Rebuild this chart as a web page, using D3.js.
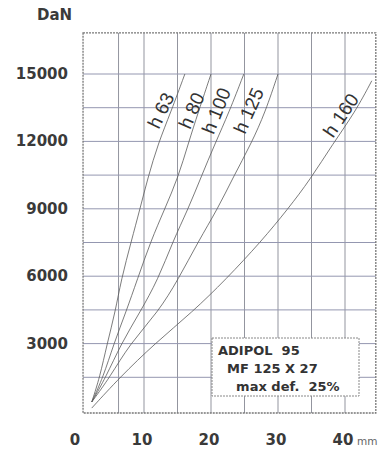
<!DOCTYPE html>
<html>
<head>
<meta charset="utf-8">
<script src="https://cdn.jsdelivr.net/npm/d3@7"></script>
<style>
  body { margin: 0; background: #fff; }
  text { white-space: pre; }
</style>
</head>
<body>
<div id="chart"></div>
<script>
// deflection (mm) vs load (DaN) for each buffer height
const seriesNames = ['h 63', 'h 80', 'h 100', 'h 125', 'h 160'];
const h63x  = [2.2, 3.4, 4.5, 5.7, 6.6, 8.1, 9.4, 10.6, 12.1, 14.0, 16.1];
const h80x  = [2.2, 3.9, 5.5, 7.3, 9.0, 11.0, 13.1, 15.1, 16.6, 18.1, 20.0];
const h100x = [2.2, 4.3, 6.6, 9.4, 12.1, 14.3, 16.6, 18.5, 20.6, 22.7, 24.9];
const h125x = [2.2, 4.9, 7.9, 12.1, 15.1, 18.1, 21.0, 23.3, 26.0, 28.1, 30.0];
const h160x = [2.2, 6.4, 11.6, 17.2, 22.2, 27.5, 31.5, 34.8, 38.2, 41.5, 44.0];
const loads = [400, 1500, 3000, 4400, 5850, 7550, 9000, 10400, 11900, 13300, 15000];
const h160loads = [130, 1500, 3000, 4400, 5850, 7550, 9000, 10300, 11900, 13300, 14700];

const xTicks = [0, 10, 20, 30, 40];
const yTicks = [3000, 6000, 9000, 12000, 15000];
const xGrid = [6.2, 10, 15, 20, 25, 30, 35, 40];
const yGrid = [1500, 3000, 4500, 6000, 7500, 9000, 10500, 12000, 13500, 15000];
const boxLines = ['ADIPOL  95', '  MF 125 X 27', '    max def.  25%'];

const width = 388, height = 450;

const svg = d3.select('#chart').append('svg')
    .attr('width', width)
    .attr('height', height);

const x = d3.scaleLinear().domain([0, 40]).range([77, 345]);
const y = d3.scaleLinear().domain([0, 15000]).range([411, 74]);

// plot frame limits (data units)
const x0 = 0.9, x1 = 44.6, y0 = -90, y1 = 16830;

const grid = svg.append('g');
grid.selectAll('line.v').data(xGrid).enter().append('line')
    .attr('x1', d => x(d)).attr('x2', d => x(d))
    .attr('y1', y(y0)).attr('y2', y(y1))
    .attr('stroke', '#93959f').attr('stroke-width', 1);
grid.selectAll('line.h').data(yGrid).enter().append('line')
    .attr('x1', x(x0)).attr('x2', x(x1))
    .attr('y1', d => y(d)).attr('y2', d => y(d))
    .attr('stroke', '#9497b0').attr('stroke-width', 1);

svg.append('rect')
    .attr('x', x(x0)).attr('y', y(y1))
    .attr('width', x(x1) - x(x0)).attr('height', y(y0) - y(y1))
    .attr('fill', 'none').attr('stroke', '#777')
    .attr('stroke-width', 1.3).attr('stroke-dasharray', '2,1');

// curves
const data = [
  h63x.map((d, i) => [d, loads[i]]),
  h80x.map((d, i) => [d, loads[i]]),
  h100x.map((d, i) => [d, loads[i]]),
  h125x.map((d, i) => [d, loads[i]]),
  h160x.map((d, i) => [d, h160loads[i]])
];

const line = d3.line()
    .x(d => x(d[0]))
    .y(d => y(d[1]))
    .curve(d3.curveBasis);

svg.selectAll('path.curve').data(data).enter().append('path')
    .attr('d', line)
    .attr('fill', 'none')
    .attr('stroke', '#5a5a5a')
    .attr('stroke-width', 0.8);

// curve labels, placed along each curve near the top
const labelAt = [[13.4, 13250, -64], [18.0, 13250, -66], [21.7, 13250, -68], [26.5, 13250, -66], [40.2, 13000, -56]];
svg.selectAll('text.lab').data(seriesNames).enter().append('text')
    .attr('transform', (d, i) => `translate(${x(labelAt[i][0])},${y(labelAt[i][1])}) rotate(${labelAt[i][2]})`)
    .attr('text-anchor', 'middle')
    .attr('font-family', 'Liberation Sans Narrow, Liberation Sans, sans-serif')
    .attr('font-size', 19)
    .attr('fill', '#333')
    .text(d => d);

// axis labels
const fontBold = 'DejaVu Sans, Verdana, sans-serif';
svg.selectAll('text.yt').data(yTicks).enter().append('text')
    .attr('x', 68).attr('y', d => y(d) + 5)
    .attr('text-anchor', 'end')
    .attr('font-family', fontBold).attr('font-weight', 'bold')
    .attr('font-size', 15).attr('fill', '#3a3a3a')
    .text(d => d);

svg.selectAll('text.xt').data(xTicks).enter().append('text')
    .attr('x', d => x(d) - 2).attr('y', 445)
    .attr('text-anchor', 'middle')
    .attr('font-family', fontBold).attr('font-weight', 'bold')
    .attr('font-size', 15).attr('fill', '#3a3a3a')
    .text(d => d);

svg.append('text')
    .attr('x', 357).attr('y', 445)
    .attr('font-family', fontBold).attr('font-size', 10.5)
    .attr('fill', '#666')
    .text('mm');

svg.append('text')
    .attr('x', 37).attr('y', 20)
    .attr('font-family', fontBold).attr('font-weight', 'bold')
    .attr('font-size', 15).attr('fill', '#3a3a3a')
    .text('DaN');

// info box
const box = svg.append('g');
box.append('rect')
    .attr('x', 212).attr('y', 338)
    .attr('width', 147).attr('height', 58)
    .attr('fill', '#fff').attr('stroke', '#888')
    .attr('stroke-width', 1).attr('stroke-dasharray', '2,1');
box.selectAll('text').data(boxLines).enter().append('text')
    .attr('x', 218).attr('y', (d, i) => 355 + i * 18)
    .attr('font-family', fontBold).attr('font-weight', 'bold')
    .attr('font-size', 13).attr('fill', '#333')
    .text(d => d);
</script>
</body>
</html>
